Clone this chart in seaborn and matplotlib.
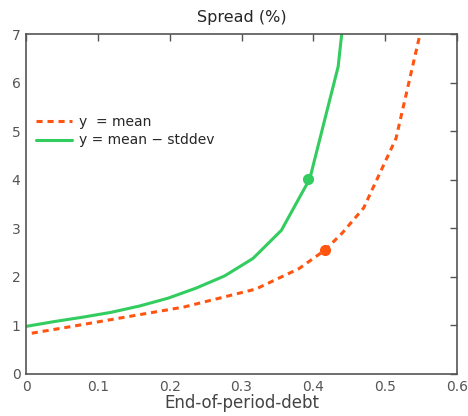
import matplotlib
matplotlib.use("Agg")
import matplotlib.pyplot as plt
import seaborn as sns
import pandas as pd

# values
debt_lo = [0.0, 0.0395, 0.079, 0.1185, 0.158, 0.1975, 0.237, 0.2765, 0.316, 0.3555, 0.395, 0.4345, 0.474]
spread_lo = [0.98, 1.08, 1.17, 1.27, 1.40, 1.56, 1.77, 2.02, 2.38, 2.96, 4.02, 6.33, 11.7]

debt_mean = [0.008, 0.06, 0.13, 0.22, 0.32, 0.38, 0.416, 0.44, 0.47, 0.515, 0.55, 0.57]
spread_mean = [0.84, 0.97, 1.15, 1.38, 1.75, 2.17, 2.55, 2.90, 3.42, 4.85, 7.1, 9.0]

pt_mean = (0.416, 2.55)
pt_lo = (0.393, 4.02)

green = "#33cc5f"
orange = "#ff5511"
grey = "#555555"

sns.set_style("white")
plt.rcParams["font.family"] = ["DejaVu Sans"]

fig = plt.figure(figsize=(4.68, 4.16), dpi=100)
ax = fig.add_axes([0.0556, 0.101, 0.921, 0.817])

df_mean = pd.DataFrame({"x": debt_mean, "y": spread_mean})
df_lo = pd.DataFrame({"x": debt_lo, "y": spread_lo})

sns.lineplot(data=df_mean, x="x", y="y", ax=ax, color=orange, lw=2.2,
             sort=False, estimator=None, label="y  = mean")
ax.lines[-1].set_dashes((2.0, 1.6))
sns.lineplot(data=df_lo, x="x", y="y", ax=ax, color=green, lw=2.2,
             sort=False, estimator=None, label="y = mean \u2212 stddev")

ax.plot(*pt_mean, "o", color=orange, ms=7)
ax.plot(*pt_lo, "o", color=green, ms=7)

ax.set_xlim(0, 0.6)
ax.set_ylim(0, 7)
ax.set_xticks([0, 0.1, 0.2, 0.3, 0.4, 0.5, 0.6])
ax.set_xticklabels(["0", "0.1", "0.2", "0.3", "0.4", "0.5", "0.6"])
ax.set_yticks(range(8))
ax.tick_params(direction="in", length=5, width=1, color=grey, labelcolor=grey,
               labelsize=10, top=True, right=True, pad=4)
for s in ax.spines.values():
    s.set_color(grey)
    s.set_linewidth(1.2)

ax.set_title("Spread (%)", fontsize=11.5, pad=9)
ax.set_xlabel("End-of-period-debt", fontsize=12, color="#444444", labelpad=0)
ax.set_ylabel("")

ax.legend(loc="upper left", bbox_to_anchor=(0.0, 0.79), frameon=False, fontsize=10,
          handlelength=2.6, handletextpad=0.5, labelspacing=0.3, borderaxespad=0.3)

fig.savefig("out.png", dpi=100)
